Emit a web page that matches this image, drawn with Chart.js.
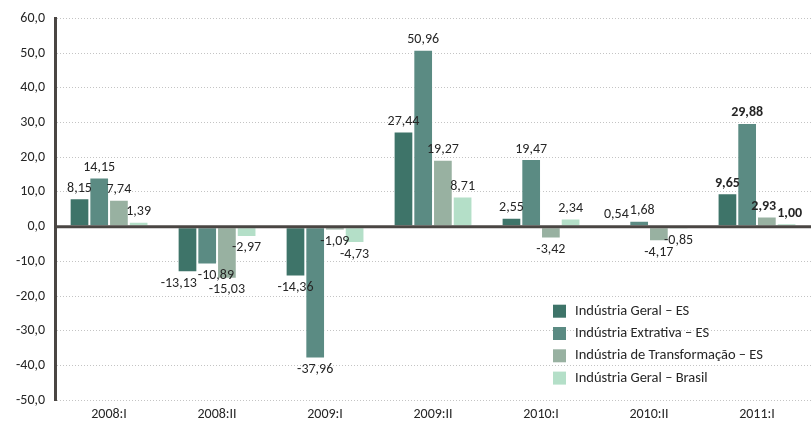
<!DOCTYPE html>
<html>
<head>
<meta charset="utf-8">
<script src="https://cdn.jsdelivr.net/npm/chart.js@4"></script>
<style>
  html, body { margin: 0; padding: 0; background: #fff; }
  #wrap { width: 811px; height: 423px; }
</style>
</head>
<body>
<div id="wrap"><canvas id="chart"></canvas></div>
<script>
// Categories and series
const periods = ['2008:I', '2008:II', '2009:I', '2009:II', '2010:I', '2010:II', '2011:I'];
const geralES = [8.15, -13.13, -14.36, 27.44, 2.55, 0.54, 9.65];
const extrativaES = [14.15, -10.89, -37.96, 50.96, 19.47, 1.68, 29.88];
const transformacaoES = [7.74, -15.03, -1.09, 19.27, -3.42, -4.17, 2.93];
const geralBrasil = [1.39, -2.97, -4.73, 8.71, 2.34, -0.85, 1.00];

const seriesNames = ['Indústria Geral – ES', 'Indústria Extrativa – ES', 'Indústria de Transformação – ES', 'Indústria Geral – Brasil'];
const seriesColors = ['#3e7469', '#5b8b83', '#98b1a1', '#b4dfc8'];

const FONT = 'Carlito, Lato, "Open Sans", sans-serif';
const TEXT = '#262626';

function fmt(v, d) {
  return v.toFixed(d).replace('.', ',');
}

// value labels above / below each bar, nudged sideways when neighbours collide
const valueLabels = {
  id: 'valueLabels',
  afterDatasetsDraw(chart) {
    const ctx = chart.ctx;
    const H = 11;
    ctx.save();
    ctx.fillStyle = TEXT;
    ctx.textAlign = 'center';
    ctx.textBaseline = 'middle';
    periods.forEach((p, j) => {
      const bold = j === periods.length - 1;
      ctx.font = (bold ? 'bold ' : '') + '14px ' + FONT;
      const boxes = chart.data.datasets.map((ds, i) => {
        const bar = chart.getDatasetMeta(i).data[j];
        const v = ds.data[j];
        const text = fmt(v, 2);
        const cy = v >= 0 ? bar.y - 10 : bar.y + 11;
        return { text, x: bar.x, y: cy, w: ctx.measureText(text).width };
      });
      for (let pass = 0; pass < 4; pass++) {
        for (let k = 0; k < boxes.length - 1; k++) {
          const a = boxes[k], b = boxes[k + 1];
          const dx = (a.w + b.w) / 2 + 1 - (b.x - a.x);
          if (dx > 0 && Math.abs(a.y - b.y) < H) {
            a.x -= dx / 2;
            b.x += dx / 2;
          }
        }
      }
      boxes.forEach(b => ctx.fillText(b.text, b.x, b.y));
    });
    ctx.restore();
  }
};

// thick zero line drawn over the bars
const zeroLine = {
  id: 'zeroLine',
  afterDatasetsDraw(chart) {
    const y = chart.scales.y.getPixelForValue(0);
    const a = chart.chartArea;
    const ctx = chart.ctx;
    ctx.save();
    ctx.strokeStyle = '#4a4643';
    ctx.lineWidth = 3;
    ctx.beginPath();
    ctx.moveTo(a.left, y);
    ctx.lineTo(a.right, y);
    ctx.stroke();
    ctx.restore();
  }
};

// legend box sitting inside the plot, lower right
const insideLegend = {
  id: 'insideLegend',
  afterDraw(chart) {
    const a = chart.chartArea;
    const ctx = chart.ctx;
    const x0 = a.right - 258;
    const y0 = a.bottom - 89;
    ctx.save();
    ctx.font = '14.5px ' + FONT;
    ctx.textBaseline = 'middle';
    ctx.textAlign = 'left';
    chart.data.datasets.forEach((ds, i) => {
      const y = y0 + i * 22.3;
      ctx.fillStyle = ds.backgroundColor;
      ctx.fillRect(x0, y - 6.5, 13, 13);
      ctx.fillStyle = TEXT;
      ctx.fillText(ds.label, x0 + 22, y);
    });
    ctx.restore();
  }
};

const allSeries = [geralES, extrativaES, transformacaoES, geralBrasil];

new Chart(document.getElementById('chart'), {
  type: 'bar',
  data: {
    labels: periods,
    datasets: allSeries.map((vals, i) => ({
      label: seriesNames[i],
      data: vals,
      backgroundColor: seriesColors[i],
      borderColor: 'rgba(255,255,255,0.85)',
      borderWidth: 1,
      borderSkipped: false,
      categoryPercentage: 0.73,
      barPercentage: 1
    }))
  },
  options: {
    responsive: true,
    maintainAspectRatio: false,
    animation: false,
    layout: { padding: { top: 6, right: 0, left: 6, bottom: -6 } },
    scales: {
      x: {
        grid: { display: false, drawTicks: false },
        border: { display: false },
        ticks: { color: TEXT, font: { family: FONT, size: 14 }, padding: 6 }
      },
      y: {
        min: -50,
        max: 60,
        ticks: {
          stepSize: 10,
          color: TEXT,
          padding: 10,
          font: { family: FONT, size: 14 },
          callback: v => fmt(v, 1)
        },
        grid: { color: '#c4c4c4', lineWidth: 1, drawTicks: false },
        border: { display: true, color: '#4a4643', width: 3, dash: [1, 2] }
      }
    },
    plugins: {
      legend: { display: false },
      tooltip: { enabled: false }
    }
  },
  plugins: [zeroLine, valueLabels, insideLegend]
});
</script>
</body>
</html>
